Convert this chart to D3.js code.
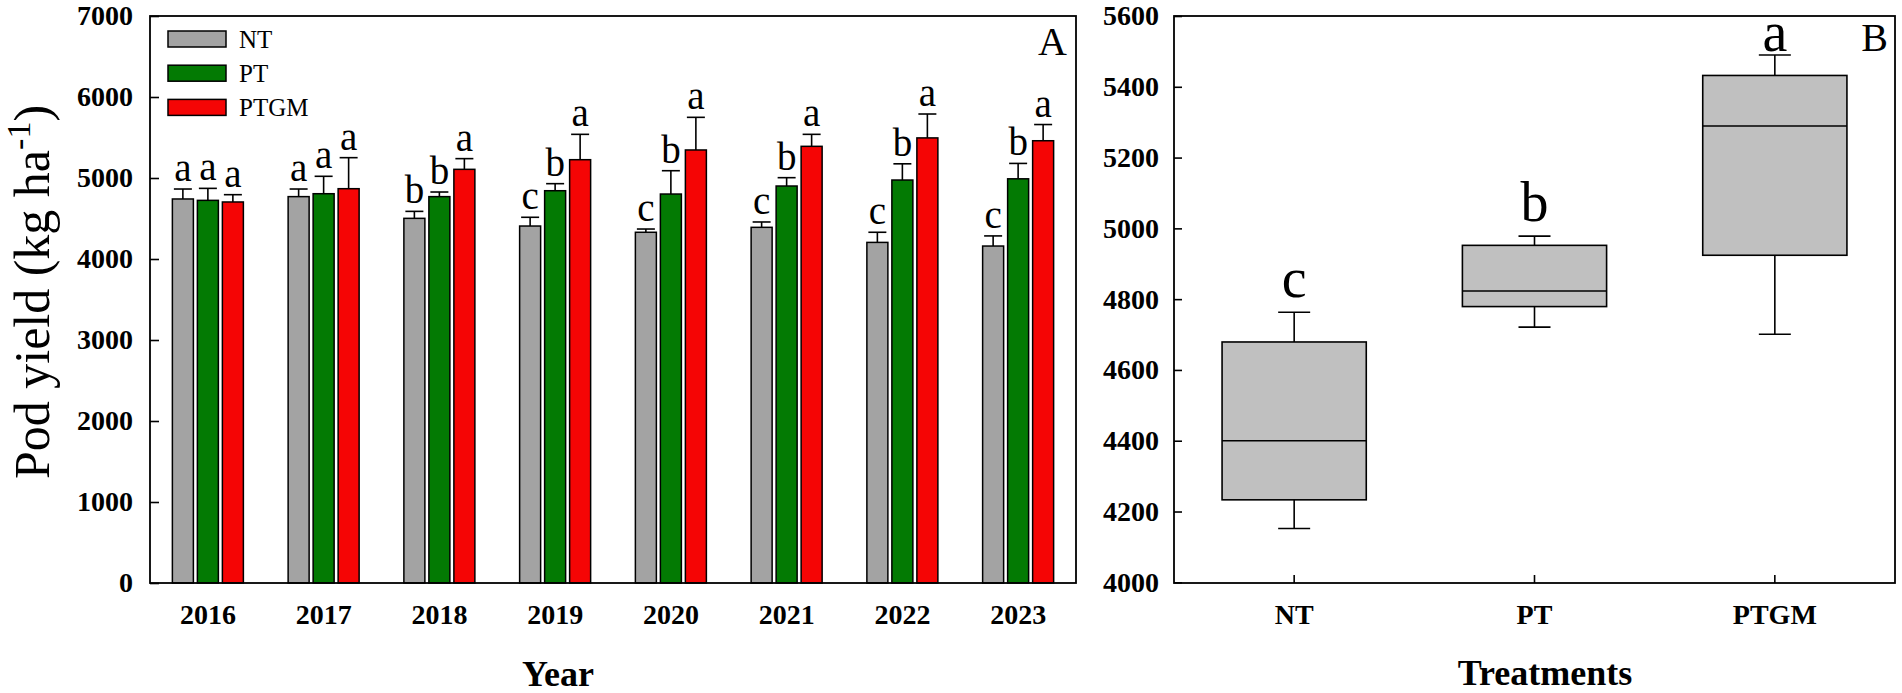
<!DOCTYPE html>
<html>
<head>
<meta charset="utf-8">
<script src="https://cdn.jsdelivr.net/npm/d3@7"></script>
<style>
  body { margin: 0; background: #fff; }
  svg { display: block; font-family: "Liberation Serif", "Times New Roman", serif; }
</style>
</head>
<body>
<div id="chart"></div>
<script>
// panel A: yearly pod yield (mean + upper SE) per treatment
const years = ["2016", "2017", "2018", "2019", "2020", "2021", "2022", "2023"];
const treatments = ["NT", "PT", "PTGM"];
const ntMean = [4741, 4770, 4502, 4407, 4330, 4391, 4205, 4160];
const ntErr = [123, 94, 86, 108, 40, 66, 125, 125];
const ptMean = [4724, 4806, 4770, 4843, 4802, 4901, 4975, 4990];
const ptErr = [148, 215, 57, 87, 288, 103, 200, 190];
const ptgmMean = [4704, 4868, 5107, 5226, 5346, 5391, 5495, 5460];
const ptgmErr = [90, 383, 132, 313, 403, 148, 295, 200];
const ntLetters = ["a", "a", "b", "c", "c", "c", "c", "c"];
const ptLetters = ["a", "a", "b", "b", "b", "b", "b", "b"];
const ptgmLetters = ["a", "a", "a", "a", "a", "a", "a", "a"];
const yTicksA = [0, 1000, 2000, 3000, 4000, 5000, 6000, 7000];

// panel B: box plots per treatment
const boxMin = [4152, 4721, 4701];
const boxQ1 = [4233, 4779, 4924];
const boxMedian = [4400, 4823, 5289];
const boxQ3 = [4679, 4952, 5432];
const boxMax = [4763, 4978, 5490];
const boxLetters = ["c", "b", "a"];
const yTicksB = [4000, 4200, 4400, 4600, 4800, 5000, 5200, 5400, 5600];

const colors = { NT: "#a3a3a3", PT: "#037a03", PTGM: "#f50505" };

const width = 1902, height = 693;
const svg = d3.select("#chart").append("svg")
  .attr("width", width).attr("height", height);
svg.append("rect").attr("width", width).attr("height", height).attr("fill", "#fff");

const plotTop = 16, plotBottom = 583;

// ---------- panel A ----------
const series = [
  { key: "NT", mean: ntMean, err: ntErr, letters: ntLetters },
  { key: "PT", mean: ptMean, err: ptErr, letters: ptLetters },
  { key: "PTGM", mean: ptgmMean, err: ptgmErr, letters: ptgmLetters }
];

const xA = d3.scaleBand().domain(years).range([150, 1076]);
const xInner = d3.scaleBand().domain(treatments).range([-35.5, 35.5]).paddingInner(0.16);
const yA = d3.scaleLinear().domain([0, 7000]).range([plotBottom, plotTop]);

const gA = svg.append("g");

series.forEach((s) => {
  const g = gA.append("g");
  const rows = years.map((yr, i) => ({ yr, v: s.mean[i], e: s.err[i], l: s.letters[i] }));
  const cx = (d) => xA(d.yr) + xA.bandwidth() / 2 + xInner(s.key);
  const bw = xInner.bandwidth();

  g.selectAll("line.err").data(rows).join("line")
    .attr("class", "err")
    .attr("x1", (d) => cx(d) + bw / 2).attr("x2", (d) => cx(d) + bw / 2)
    .attr("y1", (d) => yA(d.v)).attr("y2", (d) => yA(d.v + d.e))
    .attr("stroke", "#000").attr("stroke-width", 1.6);
  g.selectAll("line.cap").data(rows).join("line")
    .attr("class", "cap")
    .attr("x1", (d) => cx(d) + bw / 2 - 9).attr("x2", (d) => cx(d) + bw / 2 + 9)
    .attr("y1", (d) => yA(d.v + d.e)).attr("y2", (d) => yA(d.v + d.e))
    .attr("stroke", "#000").attr("stroke-width", 1.6);

  g.selectAll("rect").data(rows).join("rect")
    .attr("x", cx)
    .attr("y", (d) => yA(d.v))
    .attr("width", bw)
    .attr("height", (d) => yA(0) - yA(d.v))
    .attr("fill", colors[s.key])
    .attr("stroke", "#000")
    .attr("stroke-width", 1.5);

  g.selectAll("text").data(rows).join("text")
    .attr("x", (d) => cx(d) + bw / 2)
    .attr("y", (d) => yA(d.v + d.e) - 8)
    .attr("text-anchor", "middle")
    .style("font-size", "39px")
    .text((d) => d.l);
});

// frame + axes
gA.append("rect")
  .attr("x", 150).attr("y", plotTop).attr("width", 1076 - 150).attr("height", plotBottom - plotTop)
  .attr("fill", "none").attr("stroke", "#000").attr("stroke-width", 1.8);

const yAxisA = gA.append("g")
  .attr("transform", "translate(150,0)")
  .call(d3.axisLeft(yA).tickValues(yTicksA).tickFormat(d3.format("d"))
    .tickSizeInner(-9).tickSizeOuter(0).tickPadding(17));
const xAxisA = gA.append("g")
  .attr("transform", `translate(0,${plotBottom})`)
  .call(d3.axisBottom(xA).tickSize(0).tickPadding(21));
[yAxisA, xAxisA].forEach((ax) => {
  ax.select(".domain").remove();
  ax.selectAll("line").attr("stroke", "#000").attr("stroke-width", 1.6);
  ax.selectAll("text").attr("fill", "#000")
    .style("font-family", "'Liberation Serif', 'Times New Roman', serif")
    .style("font-size", "28px").style("font-weight", "bold");
});

// legend
const legend = gA.append("g").selectAll("g").data(treatments).join("g")
  .attr("transform", (d, i) => `translate(168,${31 + i * 34.2})`);
legend.append("rect").attr("width", 58).attr("height", 16)
  .attr("fill", (d) => colors[d]).attr("stroke", "#000").attr("stroke-width", 1.5);
legend.append("text").attr("x", 71).attr("y", 8).attr("dy", "0.35em")
  .style("font-size", "25px").text((d) => d);

gA.append("text").attr("x", 1067).attr("y", 55).attr("text-anchor", "end")
  .style("font-size", "40px").text("A");

const yLab = gA.append("text")
  .attr("transform", "translate(49,292) rotate(-90)")
  .attr("text-anchor", "middle")
  .style("font-size", "50px");
yLab.append("tspan").text("Pod yield (kg ha");
yLab.append("tspan").attr("dy", "-0.55em").style("font-size", "34px").text("-1");
yLab.append("tspan").attr("dy", "0.37em").text(")");

gA.append("text").attr("x", 558).attr("y", 686).attr("text-anchor", "middle")
  .style("font-size", "36px").style("font-weight", "bold").text("Year");

// ---------- panel B ----------
const xB = d3.scaleBand().domain(treatments).range([1174, 1895]);
const yB = d3.scaleLinear().domain([4000, 5600]).range([plotBottom - 0.7, plotTop]);
const boxes = treatments.map((t, i) => ({
  t, min: boxMin[i], q1: boxQ1[i], med: boxMedian[i], q3: boxQ3[i], max: boxMax[i], l: boxLetters[i]
}));
const bc = (d) => xB(d.t) + xB.bandwidth() / 2;
const boxW = xB.bandwidth() * 0.6;
const capW = 32;

const gB = svg.append("g");
gB.selectAll("line.whisk").data(boxes).join("line")
  .attr("class", "whisk")
  .attr("x1", bc).attr("x2", bc)
  .attr("y1", (d) => yB(d.min)).attr("y2", (d) => yB(d.max))
  .attr("stroke", "#000").attr("stroke-width", 1.6);
["min", "max"].forEach((k) => {
  gB.selectAll("line.cap-" + k).data(boxes).join("line")
    .attr("class", "cap-" + k)
    .attr("x1", (d) => bc(d) - capW / 2).attr("x2", (d) => bc(d) + capW / 2)
    .attr("y1", (d) => yB(d[k])).attr("y2", (d) => yB(d[k]))
    .attr("stroke", "#000").attr("stroke-width", 1.6);
});
gB.selectAll("rect.box").data(boxes).join("rect")
  .attr("class", "box")
  .attr("x", (d) => bc(d) - boxW / 2)
  .attr("y", (d) => yB(d.q3))
  .attr("width", boxW)
  .attr("height", (d) => yB(d.q1) - yB(d.q3))
  .attr("fill", "#c0c0c0").attr("stroke", "#000").attr("stroke-width", 1.6);
gB.selectAll("line.med").data(boxes).join("line")
  .attr("class", "med")
  .attr("x1", (d) => bc(d) - boxW / 2).attr("x2", (d) => bc(d) + boxW / 2)
  .attr("y1", (d) => yB(d.med)).attr("y2", (d) => yB(d.med))
  .attr("stroke", "#000").attr("stroke-width", 1.6);
gB.selectAll("text.let").data(boxes).join("text")
  .attr("class", "let")
  .attr("x", bc)
  .attr("y", (d) => Math.max(yB(d.max) - 15, plotTop + 35))
  .attr("text-anchor", "middle")
  .style("font-size", "56px")
  .text((d) => d.l);

gB.append("rect")
  .attr("x", 1174).attr("y", plotTop).attr("width", 1895 - 1174).attr("height", plotBottom - plotTop)
  .attr("fill", "none").attr("stroke", "#000").attr("stroke-width", 1.8);

const yAxisB = gB.append("g")
  .attr("transform", "translate(1174,0)")
  .call(d3.axisLeft(yB).tickValues(yTicksB).tickFormat(d3.format("d"))
    .tickSizeInner(-8).tickSizeOuter(0).tickPadding(15));
const xAxisB = gB.append("g")
  .attr("transform", `translate(0,${plotBottom})`)
  .call(d3.axisBottom(xB).tickSizeInner(-8).tickSizeOuter(0).tickPadding(21));
[yAxisB, xAxisB].forEach((ax) => {
  ax.select(".domain").remove();
  ax.selectAll("line").attr("stroke", "#000").attr("stroke-width", 1.6);
  ax.selectAll("text").attr("fill", "#000")
    .style("font-family", "'Liberation Serif', 'Times New Roman', serif")
    .style("font-size", "28px").style("font-weight", "bold");
});

gB.append("text").attr("x", 1888).attr("y", 51).attr("text-anchor", "end")
  .style("font-size", "40px").text("B");

gB.append("text").attr("x", 1545).attr("y", 685).attr("text-anchor", "middle")
  .style("font-size", "36px").style("font-weight", "bold").text("Treatments");
</script>
</body>
</html>
